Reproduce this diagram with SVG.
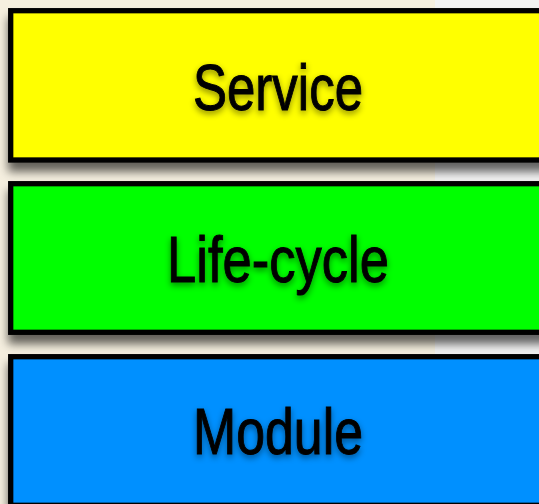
<svg xmlns="http://www.w3.org/2000/svg" width="539" height="504" viewBox="0 0 539 504">
<defs>
<filter id="boxShadow" x="-10%" y="-10%" width="130%" height="140%">
<feDropShadow dx="0" dy="9" stdDeviation="5" flood-color="#000" flood-opacity="0.6"/>
</filter>
<filter id="textShadow" x="-10%" y="-20%" width="120%" height="160%">
<feDropShadow dx="0" dy="3" stdDeviation="3" flood-color="#000" flood-opacity="0.45"/>
</filter>
<style>
.box{stroke:#000;stroke-width:5.3}
.label{font-family:"Liberation Sans",Arial,sans-serif;font-size:64px;fill:#000;stroke:#000;stroke-width:1;text-anchor:middle}
</style>
</defs>
<rect x="0" y="0" width="435" height="504" fill="#f5efdf"/>
<rect x="435" y="0" width="104" height="504" fill="#f2f2f2"/>
<g id="connectors"/>
<g id="service">
<rect class="box" x="10.7" y="10.7" width="560" height="149.3" fill="#ffff00" filter="url(#boxShadow)"/>
<text class="label" x="278" y="110" textLength="170" lengthAdjust="spacingAndGlyphs" filter="url(#textShadow)">Service</text>
</g>
<g id="lifecycle">
<rect class="box" x="10.7" y="183.7" width="560" height="148.6" fill="#00ff00" filter="url(#boxShadow)"/>
<text class="label" x="278" y="282" textLength="222" lengthAdjust="spacingAndGlyphs" filter="url(#textShadow)">Life-cycle</text>
</g>
<g id="module">
<rect class="box" x="10.7" y="356.7" width="560" height="148.6" fill="#0090ff" filter="url(#boxShadow)"/>
<text class="label" x="278" y="454" textLength="170" lengthAdjust="spacingAndGlyphs" filter="url(#textShadow)">Module</text>
</g>
</svg>
